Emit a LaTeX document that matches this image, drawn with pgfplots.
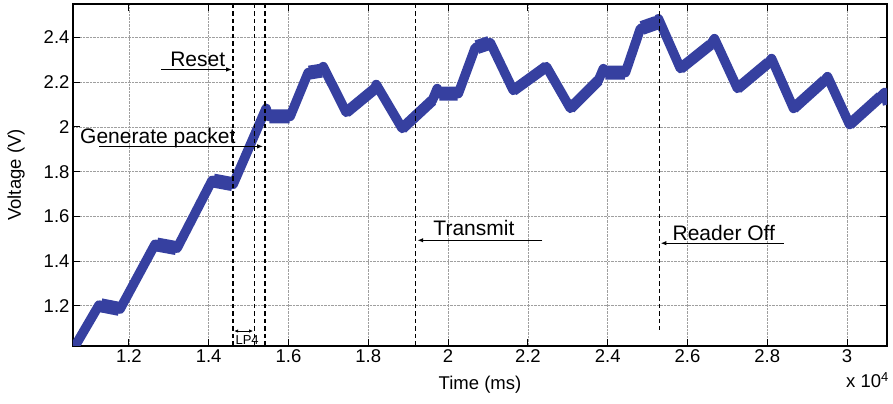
\documentclass[border=0pt]{standalone}
\usepackage{fontspec}
\setmainfont{Liberation Sans}
\usepackage{pgfplots}
\pgfplotsset{compat=1.18}
\usetikzlibrary{arrows.meta}
\definecolor{vblue}{RGB}{54,64,160}

\begin{document}
\begin{tikzpicture}
\begin{axis}[
  scale only axis, width=814pt, height=342pt,
  xmin=10600, xmax=31000, ymin=1.02, ymax=2.55,
  scaled x ticks=false,
  xtick={12000,14000,16000,18000,20000,22000,24000,26000,28000,30000},
  xticklabels={1.2,1.4,1.6,1.8,2,2.2,2.4,2.6,2.8,3},
  ytick={1.2,1.4,1.6,1.8,2,2.2,2.4},
  yticklabels={1.2,1.4,1.6,1.8,2,2.2,2.4},
  tick align=inside, major tick length=7pt,
  grid=major, grid style={densely dotted, gray!75, line width=0.7pt},
  axis line style={line width=1.2pt}, tick style={black, line width=1pt},
  tick label style={font=\fontsize{18.5}{18.5}\selectfont},
  label style={font=\fontsize{18.5}{18.5}\selectfont},
  xlabel={Time (ms)}, ylabel={Voltage (V)},
  xlabel style={at={(axis description cs:0.5,-0.114)}, anchor=center},
  ylabel style={at={(axis description cs:-0.070,0.5)}, anchor=center},
  unbounded coords=jump,
  clip mode=individual,
]
% measured trace (centre of the noisy band)
\addplot[vblue, line width=9.5pt, line join=round] coordinates {
(10620,1.01) (11252,1.203) (11779,1.185) (12657,1.475) (13208,1.4575)
(14086,1.761) (14613,1.743) (15440,2.083) (15491,2.047) (16042,2.047)
(16494,2.243) (16845,2.252) (16870,2.27) (17447,2.065) (18174,2.172)
(18199,2.19) (18851,1.993) (19604,2.118) (19729,2.172) (19754,2.149)
(20256,2.149) (20682,2.355) (21058,2.377) (21635,2.163) (22463,2.27)
(23065,2.083) (23767,2.208) (23892,2.261) (23918,2.243) (24444,2.243)
(24820,2.44) (25222,2.466) (25272,2.484) (25824,2.261) (26576,2.368)
(26676,2.395) (27253,2.172) (28031,2.288) (28106,2.306) (28658,2.083)
(29435,2.208) (29510,2.225) (30062,2.011) (30840,2.136) (30940,2.154)
(31015,2.10)
};
% wider noise band on the plateaus
\addplot[vblue, line width=14pt] coordinates {
(11300,1.202) (11760,1.186) (nan,nan)
(12700,1.474) (13190,1.458) (nan,nan)
(14120,1.760) (14600,1.744) (nan,nan)
(15520,2.047) (16030,2.047) (nan,nan)
(16520,2.243) (16830,2.252) (nan,nan)
(19780,2.149) (20240,2.149) (nan,nan)
(20720,2.357) (21040,2.376) (nan,nan)
(23940,2.243) (24430,2.243) (nan,nan)
(24860,2.443) (25210,2.465)
};
% charging ramps are noisier than the discharges
\addplot[vblue, line width=11pt] coordinates {
(17447,2.065) (18174,2.172) (nan,nan)
(18851,1.993) (19604,2.118) (nan,nan)
(21635,2.163) (22463,2.27) (nan,nan)
(23065,2.083) (23767,2.208) (nan,nan)
(25824,2.261) (26576,2.368) (nan,nan)
(27253,2.172) (28031,2.288) (nan,nan)
(28658,2.083) (29435,2.208) (nan,nan)
(30062,2.011) (30840,2.136)
};

% event markers
\addplot[black, line width=1.3pt, dash pattern=on 4.5pt off 3pt] coordinates {(14613,2.55) (14613,1.02)};
\addplot[black, line width=1.3pt, dash pattern=on 4.5pt off 3pt] coordinates {(15140,2.55) (15140,1.02)};
\addplot[black, line width=1.3pt, dash pattern=on 4.5pt off 3pt] coordinates {(15415,2.55) (15415,1.02)};
\addplot[black, line width=1.3pt, dash pattern=on 4.5pt off 3pt] coordinates {(19177,2.55) (19177,1.02)};
\addplot[black, line width=1.3pt, dash pattern=on 4.5pt off 3pt] coordinates {(25297,2.55) (25297,1.091)};

% annotations
\draw[-{Latex[length=6pt,width=4.5pt]}, line width=1.2pt] (axis cs:12807,2.257) -- (axis cs:14588,2.257);
\node[anchor=base west, inner sep=0, font=\fontsize{21}{21}\selectfont] at (axis cs:13033,2.27) {Reset};

\draw[-{Latex[length=6pt,width=4.5pt]}, line width=1.2pt] (axis cs:11252,1.913) -- (axis cs:15365,1.913);
\node[anchor=base west, inner sep=0, font=\fontsize{21}{21}\selectfont] at (axis cs:10776,1.926) {Generate packet};

\draw[-{Latex[length=6pt,width=4.5pt]}, line width=1.2pt] (axis cs:22363,1.493) -- (axis cs:19227,1.493);
\node[anchor=base west, inner sep=0, font=\fontsize{21}{21}\selectfont] at (axis cs:19629,1.5155) {Transmit};

\draw[-{Latex[length=6pt,width=4.5pt]}, line width=1.2pt] (axis cs:28407,1.48) -- (axis cs:25322,1.48);
\node[anchor=base west, inner sep=0, font=\fontsize{21}{21}\selectfont] at (axis cs:25623,1.493) {Reader Off};

\draw[{Latex[length=4pt,width=3.5pt]}-{Latex[length=4pt,width=3.5pt]}, line width=1pt] (axis cs:14638,1.087) -- (axis cs:15114,1.087);
\node[inner sep=0, font=\fontsize{13}{13}\selectfont] at (axis cs:14964,1.045) {LP4};

\node[anchor=east, inner sep=0, font=\fontsize{18.5}{18.5}\selectfont] at ([xshift=2pt,yshift=-34pt]rel axis cs:1,0) {x 10\textsuperscript{4}};
\end{axis}
\pgfresetboundingbox
\path[use as bounding box] ([xshift=-73pt,yshift=-58pt]current axis.south west) rectangle ([xshift=6pt,yshift=4pt]current axis.north east);
\end{tikzpicture}
\end{document}
